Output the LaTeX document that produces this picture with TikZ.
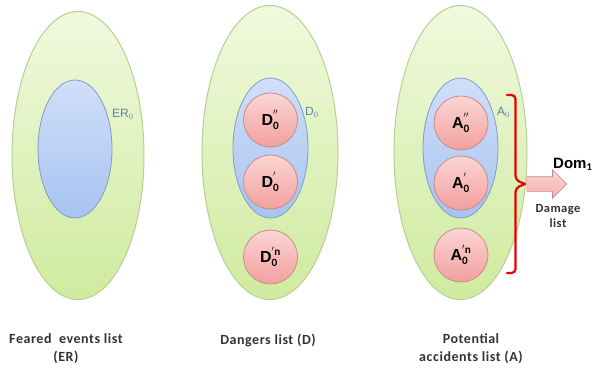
\documentclass[tikz,border=0pt]{standalone}
\usepackage{fontspec}
\setmainfont{Carlito}
\newfontfamily\arialf{Liberation Sans}
\newfontfamily\capf[LetterSpace=4]{Carlito}
\usetikzlibrary{shapes.arrows,shapes.geometric}
\definecolor{gfill1}{HTML}{F0F9DE}
\definecolor{gfill2}{HTML}{CFEB9F}
\definecolor{gline}{HTML}{B9CF92}
\definecolor{bfill1}{HTML}{D0DFFA}
\definecolor{bfill2}{HTML}{A8C3F0}
\definecolor{bline}{HTML}{7F9DC4}
\definecolor{pfill1}{HTML}{FBD6D4}
\definecolor{pfill2}{HTML}{F2A09E}
\definecolor{pline}{HTML}{C98B88}
\definecolor{lblue}{HTML}{5A84A8}
\definecolor{txtg}{HTML}{333333}
\tikzset{
  outerell/.style={draw=gline, line width=1pt, top color=gfill1, bottom color=gfill2},
  innerell/.style={draw=bline, line width=0.8pt, top color=bfill1, bottom color=bfill2},
  circ/.style={circle, draw=pline, line width=0.8pt, top color=pfill1, bottom color=pfill2, minimum size=54pt, inner sep=0pt, font=\arialf\bfseries\fontsize{16}{16}\selectfont},
  setlbl/.style={text=lblue, font=\arialf\fontsize{12}{12}\selectfont, inner sep=0pt},
  caption/.style={text=txtg, font=\capf\bfseries\fontsize{14}{18}\selectfont, align=center},
  blockarrow/.style={single arrow, draw=pline, line width=0.6pt, top color=pfill1, bottom color=pfill2!85!white, minimum height=40pt, single arrow head extend=7pt, single arrow tip angle=90, inner sep=0pt},
}
\begin{document}
\begin{tikzpicture}[x=1pt,y=-1pt]
\useasboundingbox (0,0) rectangle (599,368);
% outer ellipses
\path[outerell] (78,155.5) ellipse [x radius=66, y radius=144];
\path[outerell] (270,152.5) ellipse [x radius=68, y radius=147];
\path[outerell] (460.5,152.5) ellipse [x radius=66.5, y radius=147];
% inner ellipses
\path[innerell] (75,149) ellipse [x radius=37, y radius=69];
\path[innerell] (270.5,148) ellipse [x radius=37.5, y radius=70];
\path[innerell] (460.5,148) ellipse [x radius=37.5, y radius=70];
% set labels
\node[setlbl, anchor=west] (er0) at (112,114) {ER$_0$};
\node[setlbl, anchor=west] (d0) at (305,112) {D$_0$};
\node[setlbl, anchor=west] (a0) at (497,112) {A$_0$};
% circles
\node[circ] (d2) at (270.5,120) {D$_{\mathbf 0}^{\mathbf{''}}$};
\node[circ] (d1) at (270.5,182) {D$_{\mathbf 0}^{\mathbf{'}}$};
\node[circ] (dn) at (270.5,257) {D$_{\mathbf 0}^{\mathbf{'n}}$};
\node[circ] (a2) at (461,123) {A$_{\mathbf 0}^{\mathbf{''}}$};
\node[circ] (a1) at (461,183) {A$_{\mathbf 0}^{\mathbf{'}}$};
\node[circ] (an) at (461,255) {A$_{\mathbf 0}^{\mathbf{'n}}$};
% bracket
\coordinate (bt) at (507,95);
\coordinate (bb) at (507,273);
\coordinate (bm) at (525,184);
\draw[red!90!black, line width=2.2pt, rounded corners=4pt, line cap=round]
  (bt) -- (515.5,95) -- (515.5,180) -- (bm);
\draw[red!90!black, line width=2.2pt, rounded corners=4pt, line cap=round]
  (bb) -- (515.5,273) -- (515.5,188) -- (bm);
% arrow
\node[blockarrow, anchor=west] (arr) at (526.5,184) {\rule{0pt}{14pt}};
\node[font=\arialf\bfseries\fontsize{15}{15}\selectfont, anchor=west, inner sep=0pt] (dom) at (553,164) {Dom$_{\mathbf 1}$};
\node[text=txtg, font=\capf\bfseries\fontsize{12.5}{15}\selectfont, align=center] (dmg) at (558,216) {Damage\\list};
% captions
\node[caption] (c1) at (66,349) {Feared\ \ events list\\(ER)};
\node[caption] (c2) at (268,340) {Dangers list (D)};
\node[caption] (c3) at (471,349) {Potential\\accidents list (A)};
\end{tikzpicture}
\end{document}
